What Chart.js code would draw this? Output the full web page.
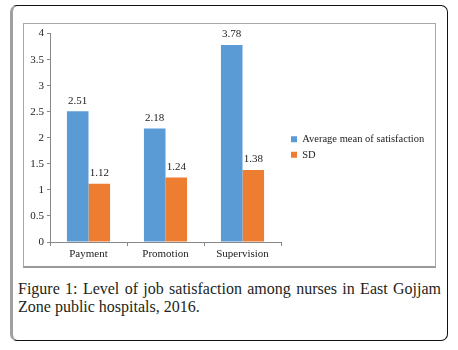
<!DOCTYPE html>
<html>
<head>
<meta charset="utf-8">
<script src="https://cdn.jsdelivr.net/npm/chart.js@4"></script>
<style>
  body { margin: 0; background: #fff; width: 458px; height: 350px; position: relative; overflow: hidden; }
  .frame { position: absolute; left: 10px; top: 5px; width: 434px; height: 334px;
           border: 1px solid #111; border-left: 3px solid #a0a0a0; border-radius: 7px; }
  .box { position: absolute; left: 23px; top: 23px; width: 411px; height: 242px;
         border: 1px solid #a8a8a8; border-bottom: 2px solid #999; }
  .caption { position: absolute; left: 18px; top: 280px; width: 423px;
             font-family: "Liberation Serif", serif; font-size: 16px;
             line-height: 18px; color: #231f20; text-align: justify; text-align-last: left; }
</style>
</head>
<body>
<div class="frame"></div>
<div class="box"><canvas id="barChart" width="411" height="242"></canvas></div>
<div class="caption">Figure 1: Level of job satisfaction among nurses in East Gojjam Zone public hospitals, 2016.</div>
<script>
const categories = ["Payment", "Promotion", "Supervision"];
const meanValues = [2.51, 2.18, 3.78];
const sdValues = [1.12, 1.24, 1.38];
const seriesNames = ["Average mean of satisfaction", "SD"];

const serif = "'Liberation Serif', serif";

// values written above each bar
const barLabels = {
  id: "barLabels",
  afterDatasetsDraw(chart) {
    const ctx = chart.ctx;
    ctx.save();
    ctx.font = "11px 'Liberation Serif'";
    ctx.fillStyle = "#222";
    ctx.textAlign = "center";
    ctx.textBaseline = "bottom";
    chart.data.datasets.forEach((ds, i) => {
      chart.getDatasetMeta(i).data.forEach((bar, j) => {
        ctx.fillText(ds.data[j].toFixed(2), bar.x, bar.y - 5);
      });
    });
    ctx.restore();
  }
};

// fix legend width so the plot ends where the original does, nudge items
const legendWidth = {
  id: "legendWidth",
  beforeInit(chart) {
    const fit = chart.legend.fit;
    chart.legend.fit = function () {
      fit.call(this);
      this.width = 154;
    };
  },
  afterLayout(chart) {
    chart.legend.left += 5;
    chart.legend.top -= 2;
    chart.legend.bottom -= 2;
  }
};

new Chart(document.getElementById("barChart").getContext("2d"), {
  type: "bar",
  data: {
    labels: categories,
    datasets: [
      { label: seriesNames[0], data: meanValues, backgroundColor: "#5b9bd5" },
      { label: seriesNames[1], data: sdValues, backgroundColor: "#ed7d31" }
    ]
  },
  options: {
    responsive: false,
    animation: false,
    layout: { padding: { top: 8, left: 0, right: 0, bottom: 0 } },
    datasets: { bar: { categoryPercentage: 0.56, barPercentage: 1 } },
    plugins: {
      legend: {
        position: "right",
        align: "center",
        labels: {
          boxWidth: 6, boxHeight: 6, padding: 5,
          color: "#222",
          font: { family: serif, size: 10.5 }
        }
      },
      tooltip: { enabled: false }
    },
    scales: {
      x: {
        afterFit(s) { s.height = 24; },
        grid: { drawOnChartArea: false, color: "#888", tickLength: 4 },
        border: { color: "#888" },
        ticks: { color: "#222", font: { family: serif, size: 11 }, padding: 2 }
      },
      y: {
        min: 0, max: 4,
        afterFit(s) { s.width = 26; },
        grid: { drawOnChartArea: false, color: "#888", tickLength: 3 },
        border: { color: "#888" },
        ticks: { stepSize: 0.5, color: "#222", font: { family: serif, size: 11 }, padding: 3,
                 callback: v => String(v) }
      }
    }
  },
  plugins: [barLabels, legendWidth]
});
</script>
</body>
</html>
